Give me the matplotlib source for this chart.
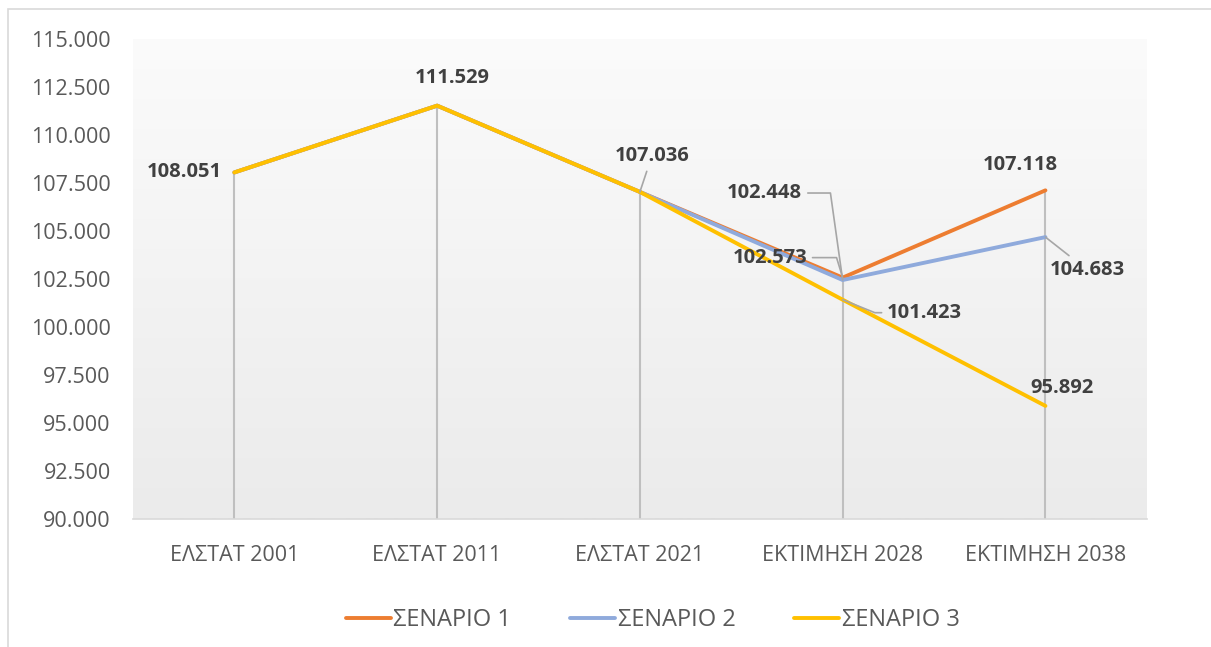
import matplotlib.pyplot as plt
import numpy as np
from matplotlib.patches import Rectangle

categories = ["ΕΛΣΤΑΤ 2001", "ΕΛΣΤΑΤ 2011", "ΕΛΣΤΑΤ 2021", "ΕΚΤΙΜΗΣΗ 2028", "ΕΚΤΙΜΗΣΗ 2038"]
scenario1 = [108.051, 111.529, 107.036, 102.573, 107.118]
scenario2 = [108.051, 111.529, 107.036, 102.448, 104.683]
scenario3 = [108.051, 111.529, 107.036, 101.423, 95.892]
series_names = ["ΣΕΝΑΡΙΟ 1", "ΣΕΝΑΡΙΟ 2", "ΣΕΝΑΡΙΟ 3"]
colors = ["#ED7D31", "#8FAADC", "#FFC000"]
yticks = np.arange(90, 115.1, 2.5)

plt.rcParams['font.family'] = ['Open Sans', 'DejaVu Sans']

fig = plt.figure(figsize=(12.11, 6.47), dpi=100)
ax = fig.add_axes([0.1098, 0.1978, 0.8372, 0.7419])

# outer frame of the chart
fig.patches.append(Rectangle((8 / 1211, -0.1), 1.1, 0.1 + (647 - 9) / 647,
                             transform=fig.transFigure, fill=False,
                             edgecolor="#d9d9d9", lw=1.2))

# gradient background of plot area
grad = np.linspace(0, 1, 256).reshape(-1, 1)
ax.imshow(grad, extent=[-0.5, 4.5, 90, 115], aspect='auto', origin='upper',
          cmap=plt.matplotlib.colors.LinearSegmentedColormap.from_list(
              "bg", ["#fbfbfb", "#ebebeb"]), zorder=0)

x = np.arange(len(categories))
all_series = [scenario1, scenario2, scenario3]

# drop lines
tops = np.max(all_series, axis=0)
ax.vlines(x, 90, tops, color="#bfbfbf", lw=1.5, zorder=1)

for vals, name, col in zip(all_series, series_names, colors):
    ax.plot(x, vals, color=col, lw=2.8, label=name, zorder=3, solid_capstyle='round')

lab = dict(fontsize=14.5, fontweight='bold', color="#404040", ha='center', va='center',
           textcoords='offset pixels', zorder=5)
lead = dict(arrowstyle='-', color="#a6a6a6", lw=1.2, shrinkA=2, shrinkB=0)

ax.annotate(f"{scenario1[0]:.3f}", (x[0], scenario1[0]), xytext=(-50, 0), **lab)
ax.annotate(f"{scenario1[1]:.3f}", (x[1], scenario1[1]), xytext=(15, 28), **lab)
ax.annotate(f"{scenario1[2]:.3f}", (x[2], scenario1[2]), xytext=(12, 36),
            arrowprops=lead, **lab)
ax.annotate(f"{scenario2[3]:.3f}", (x[3], scenario2[3]), xytext=(-78, 87),
            arrowprops=dict(lead, connectionstyle="angle,angleA=0,angleB=98,rad=0"), **lab)
ax.annotate(f"{scenario1[3]:.3f}", (x[3], scenario1[3]), xytext=(-73, 20),
            arrowprops=dict(lead, connectionstyle="angle,angleA=0,angleB=107,rad=0"), **lab)
ax.annotate(f"{scenario3[3]:.3f}", (x[3], scenario3[3]), xytext=(82, -13),
            arrowprops=dict(lead, connectionstyle="angle,angleA=0,angleB=-22,rad=0"), **lab)
ax.annotate(f"{scenario1[4]:.3f}", (x[4], scenario1[4]), xytext=(-25, 25), **lab)
ax.annotate(f"{scenario2[4]:.3f}", (x[4], scenario2[4]), xytext=(42, -33),
            arrowprops=lead, **lab)
ax.annotate(f"{scenario3[4]:.3f}", (x[4], scenario3[4]), xytext=(17, 18), **lab)

ax.set_xlim(-0.5, 4.5)
ax.set_ylim(90, 115)
ax.set_yticks(yticks)
ax.set_yticklabels([f"{v:.3f}" for v in yticks])
ax.set_xticks(x)
ax.set_xticklabels(categories)
ax.tick_params(axis='both', length=0, labelsize=15.5, labelcolor="#595959")
ax.tick_params(axis='y', pad=16)
ax.tick_params(axis='x', pad=19)
for s in ['left', 'right', 'top']:
    ax.spines[s].set_visible(False)
ax.spines['bottom'].set_color("#d9d9d9")
ax.spines['bottom'].set_linewidth(1.2)
ax.spines['bottom'].set_zorder(4)

leg = fig.legend(loc='center', bbox_to_anchor=(0.539, 0.042), ncol=3, frameon=False,
                 fontsize=17, handlelength=1.9, columnspacing=2.5, handletextpad=0.1)
for t in leg.get_texts():
    t.set_color("#595959")

fig.savefig("out.png", dpi=100)
